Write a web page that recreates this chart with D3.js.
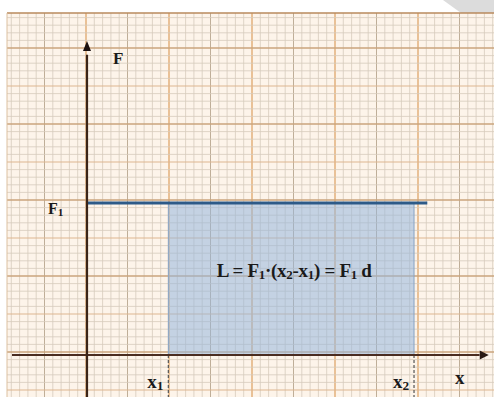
<!DOCTYPE html>
<html>
<head>
<meta charset="utf-8">
<script src="https://cdn.jsdelivr.net/npm/d3@7"></script>
<style>
    body { margin: 0; background: #ffffff; }
    svg { display: block; }
    text { font-family: "Liberation Serif", "DejaVu Serif", serif; font-weight: bold; fill: #1a1a1a; }
</style>
</head>
<body>
<div class="chart"></div>
<script>
// Chart values (grid units: 1 unit = one small square)
const xMarks = [9.8, 39.4];           // x1, x2
const xMarkNames = ["x", "x"];
const xMarkSubs = ["1", "2"];
const forceValue = 20;                // F1
const forceName = "F";
const forceSub = "1";
const forceLineEnd = 41;
const axisNames = ["x", "F"];
const formulaParts = [
    ["L = F", false], ["1", true], ["·(x", false], ["2", true],
    ["-x", false], ["1", true], [") = F", false], ["1", true], [" d", false],
];

let width = 494;
let height = 397;

// paper edges in px
const paper = { left: 7, top: 13 };

const x = d3.scaleLinear().domain([0, 48]).range([87, 87 + 48 * 8.3]);
const y = d3.scaleLinear().domain([0, 40]).range([355, 355 - 40 * 7.6]);

const svg = d3
    .select(".chart")
    .append("svg")
    .attr("width", width)
    .attr("height", height);

// grey page corner in the top right
svg.append("polygon")
    .attr("points", `443,0 ${width},0 ${width},${paper.top} 461,${paper.top}`)
    .attr("fill", "#dcdcdc");

// graph paper
svg.append("rect")
    .attr("x", paper.left)
    .attr("y", paper.top)
    .attr("width", width - paper.left)
    .attr("height", height - paper.top)
    .attr("fill", "#fdf4ea");

const grid = svg.append("g");
const gx0 = Math.ceil(x.invert(paper.left));
const gx1 = Math.floor(x.invert(width));
d3.range(gx0 - 1, gx1 + 1).forEach((k) => {
    const px = x(k) - 1;
    if (px < paper.left || px > width) return;
    const major = k % 10 === 0;
    const mid = k % 5 === 0;
    grid.append("line")
        .attr("x1", px).attr("x2", px)
        .attr("y1", paper.top).attr("y2", height)
        .attr("stroke", major ? "#e4b482" : mid ? "#bfae98" : "#d6cbbd")
        .attr("stroke-width", major ? 1.6 : mid ? 1 : 0.8);
});
const gy0 = Math.ceil(y.invert(height));
const gy1 = Math.floor(y.invert(paper.top));
d3.range(gy0 - 1, gy1 + 2).forEach((k) => {
    const py = y(k) - 3;
    if (py < paper.top || py > height) return;
    const major = k % 10 === 0;
    const mid = k % 5 === 0;
    grid.append("line")
        .attr("x1", paper.left).attr("x2", width)
        .attr("y1", py).attr("y2", py)
        .attr("stroke", major ? "#caa47c" : mid ? "#deb690" : "#d6cbbd")
        .attr("stroke-width", major ? 1.5 : mid ? 1.2 : 0.8);
});
// paper border
svg.append("line")
    .attr("x1", paper.left).attr("x2", width)
    .attr("y1", paper.top).attr("y2", paper.top)
    .attr("stroke", "#b88a5c").attr("stroke-width", 1.5);
svg.append("line")
    .attr("x1", paper.left).attr("x2", paper.left)
    .attr("y1", paper.top).attr("y2", height)
    .attr("stroke", "#dcc0a0").attr("stroke-width", 1);

// work area
svg.append("rect")
    .attr("x", x(xMarks[0]))
    .attr("y", y(forceValue))
    .attr("width", x(xMarks[1]) - x(xMarks[0]))
    .attr("height", y(0) - y(forceValue))
    .attr("fill", "#96b6dc")
    .attr("fill-opacity", 0.55)
    .attr("stroke", "#86a4c6")
    .attr("stroke-width", 1);

// dashed drops to x1, x2
svg.selectAll(".drop")
    .data(xMarks)
    .join("line")
    .attr("class", "drop")
    .attr("x1", (d) => x(d)).attr("x2", (d) => x(d))
    .attr("y1", y(0)).attr("y2", height)
    .attr("stroke", "#555")
    .attr("stroke-width", 1.2)
    .attr("stroke-dasharray", "3,2");

// F1 line
svg.append("line")
    .attr("x1", x(0)).attr("x2", x(forceLineEnd))
    .attr("y1", y(forceValue)).attr("y2", y(forceValue))
    .attr("stroke", "#2d5a88")
    .attr("stroke-width", 3);

// axes
svg.append("line")
    .attr("x1", 12).attr("x2", x(47.3))
    .attr("y1", y(0)).attr("y2", y(0))
    .attr("stroke", "#4a2c20").attr("stroke-width", 2.2);
svg.append("path")
    .attr("d", `M${x(48.4)},${y(0)} l-9,-4.5 l0,9 z`)
    .attr("fill", "#2a1a14");
svg.append("line")
    .attr("x1", x(0)).attr("x2", x(0))
    .attr("y1", height).attr("y2", y(39.5))
    .attr("stroke", "#3a2418").attr("stroke-width", 2.2);
svg.append("path")
    .attr("d", `M${x(0)},${y(41.3)} l-4,10 l8,0 z`)
    .attr("fill", "#1a1010");

// labels
function subLabel(g, base, sub, px, py, size) {
    const t = g.append("text").attr("x", px).attr("y", py).attr("font-size", size);
    t.append("tspan").text(base);
    t.append("tspan").attr("font-size", size * 0.7).attr("dy", 2).text(sub);
    return t;
}

const labels = svg.append("g");
xMarks.forEach((v, i) => {
    subLabel(labels, xMarkNames[i], xMarkSubs[i], x(v) - 21, 388, 19);
});
subLabel(labels, forceName, forceSub, 48, 214, 16);

labels.append("text")
    .attr("x", 455).attr("y", 384).attr("font-size", 19)
    .text(axisNames[0]);
labels.append("text")
    .attr("x", 113).attr("y", 64).attr("font-size", 17)
    .text(axisNames[1]);

const formula = labels.append("text")
    .attr("x", (x(xMarks[0]) + x(xMarks[1])) / 2 + 3)
    .attr("y", 277)
    .attr("text-anchor", "middle")
    .attr("font-size", 19)
    .attr("letter-spacing", -0.3);
formulaParts.forEach(([s, isSub], i) => {
    const prevSub = i > 0 && formulaParts[i - 1][1];
    const ts = formula.append("tspan").text(s);
    if (isSub) ts.attr("font-size", 13).attr("dy", 2);
    else if (prevSub) ts.attr("dy", -2);
});
</script>
</body>
</html>
